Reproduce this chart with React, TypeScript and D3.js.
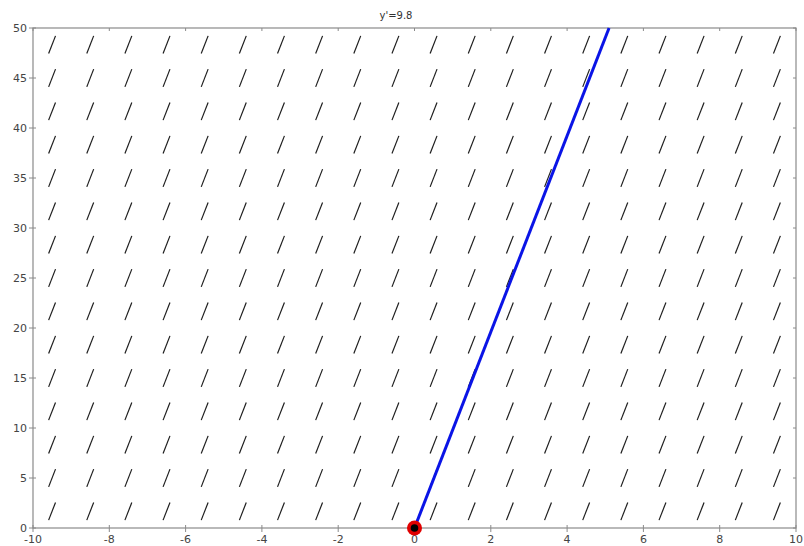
import * as d3 from 'd3';
import { useEffect, useRef } from 'react';

// direction field y' = 9.8, sampled on a 20 x 15 grid
const slope = 9.8;
const gridX = [-9.5, -8.5, -7.5, -6.5, -5.5, -4.5, -3.5, -2.5, -1.5, -0.5, 0.5, 1.5, 2.5, 3.5, 4.5, 5.5, 6.5, 7.5, 8.5, 9.5];
const gridY = [1.67, 5, 8.33, 11.67, 15, 18.33, 21.67, 25, 28.33, 31.67, 35, 38.33, 41.67, 45, 48.33];

// solution through the initial point (0, 0)
const solX = [0, 5.1];
const solY = [0, 50];
const initPoint = { x: 0, y: 0 };

const xTicks = [-10, -8, -6, -4, -2, 0, 2, 4, 6, 8, 10];
const yTicks = [0, 5, 10, 15, 20, 25, 30, 35, 40, 45, 50];

const W = 804;
const H = 546;
const margin = { top: 28, right: 8, bottom: 18, left: 33 };

export default function App() {
  const ref = useRef<SVGSVGElement>(null);

  useEffect(() => {
    const svg = d3.select(ref.current);
    svg.selectAll('*').remove();

    const x = d3.scaleLinear().domain([-10, 10]).range([margin.left, W - margin.right]);
    const y = d3.scaleLinear().domain([0, 50]).range([H - margin.bottom, margin.top]);
    const x0 = x(-10), x1 = x(10), y0 = y(0), y1 = y(50);
    const axisCol = '#8a8a8a';
    const font = 'Tahoma, "DejaVu Sans", sans-serif';

    svg.append('rect').attr('width', W).attr('height', H).attr('fill', '#fff');

    // frame
    svg.append('rect')
      .attr('x', x0).attr('y', y1)
      .attr('width', x1 - x0).attr('height', y0 - y1)
      .attr('fill', 'none').attr('stroke', axisCol).attr('stroke-width', 1.2);

    // ticks
    const g = svg.append('g').attr('stroke', axisCol).attr('stroke-width', 1);
    xTicks.forEach(function (t) {
      g.append('line').attr('x1', x(t)).attr('x2', x(t)).attr('y1', y0 - 3).attr('y2', y0 + 4);
      g.append('line').attr('x1', x(t)).attr('x2', x(t)).attr('y1', y1).attr('y2', y1 + 3);
    });
    yTicks.forEach(function (t) {
      g.append('line').attr('x1', x0 - 4).attr('x2', x0 + 3).attr('y1', y(t)).attr('y2', y(t));
      g.append('line').attr('x1', x1 - 3).attr('x2', x1).attr('y1', y(t)).attr('y2', y(t));
    });

    // tick labels
    svg.append('g').selectAll('text').data(xTicks).enter().append('text')
      .attr('x', function (d) { return x(d); })
      .attr('y', 543)
      .attr('text-anchor', 'middle')
      .attr('font-family', font).attr('font-size', 11).attr('fill', '#444')
      .text(function (d) { return String(d); });

    svg.append('g').selectAll('text').data(yTicks).enter().append('text')
      .attr('x', x0 - 6)
      .attr('y', function (d) { return y(d) + 4; })
      .attr('text-anchor', 'end')
      .attr('font-family', font).attr('font-size', 11).attr('fill', '#444')
      .text(function (d) { return String(d); });

    // title
    svg.append('text')
      .attr('x', 396).attr('y', 19)
      .attr('text-anchor', 'middle')
      .attr('font-family', font).attr('font-size', 10).attr('fill', '#333')
      .text("y'=9.8");

    // slope segments
    const cells = gridX.flatMap(function (gx) {
      return gridY.map(function (gy) { return { gx: gx, gy: gy }; });
    });
    const kx = x(1) - x(0);
    const ky = y(0) - y(1);
    const dx = kx, dy = slope * ky;
    const len = Math.sqrt(dx * dx + dy * dy);
    const half = 9.5;
    const ux = (dx / len) * half, uy = (dy / len) * half;

    svg.append('g').selectAll('line').data(cells).enter().append('line')
      .attr('x1', function (d) { return x(d.gx) - ux; })
      .attr('y1', function (d) { return y(d.gy) + uy; })
      .attr('x2', function (d) { return x(d.gx) + ux; })
      .attr('y2', function (d) { return y(d.gy) - uy; })
      .attr('stroke', '#1e1e1e').attr('stroke-width', 1.2);

    // solution curve
    const line = d3.line<number>()
      .x(function (_d, i) { return x(solX[i]); })
      .y(function (d) { return y(d); });
    svg.append('path')
      .datum(solY)
      .attr('d', line)
      .attr('fill', 'none').attr('stroke', '#0a14e6').attr('stroke-width', 3);

    // initial point
    svg.append('circle')
      .attr('cx', x(initPoint.x)).attr('cy', y(initPoint.y)).attr('r', 7.5)
      .attr('fill', '#e00000');
    svg.append('circle')
      .attr('cx', x(initPoint.x)).attr('cy', y(initPoint.y)).attr('r', 3.8)
      .attr('fill', '#000');
  }, []);

  return (
    <svg
      ref={ref}
      width={W}
      height={H}
      style={{ position: 'absolute', left: 0, top: 0 }}
    />
  );
}
